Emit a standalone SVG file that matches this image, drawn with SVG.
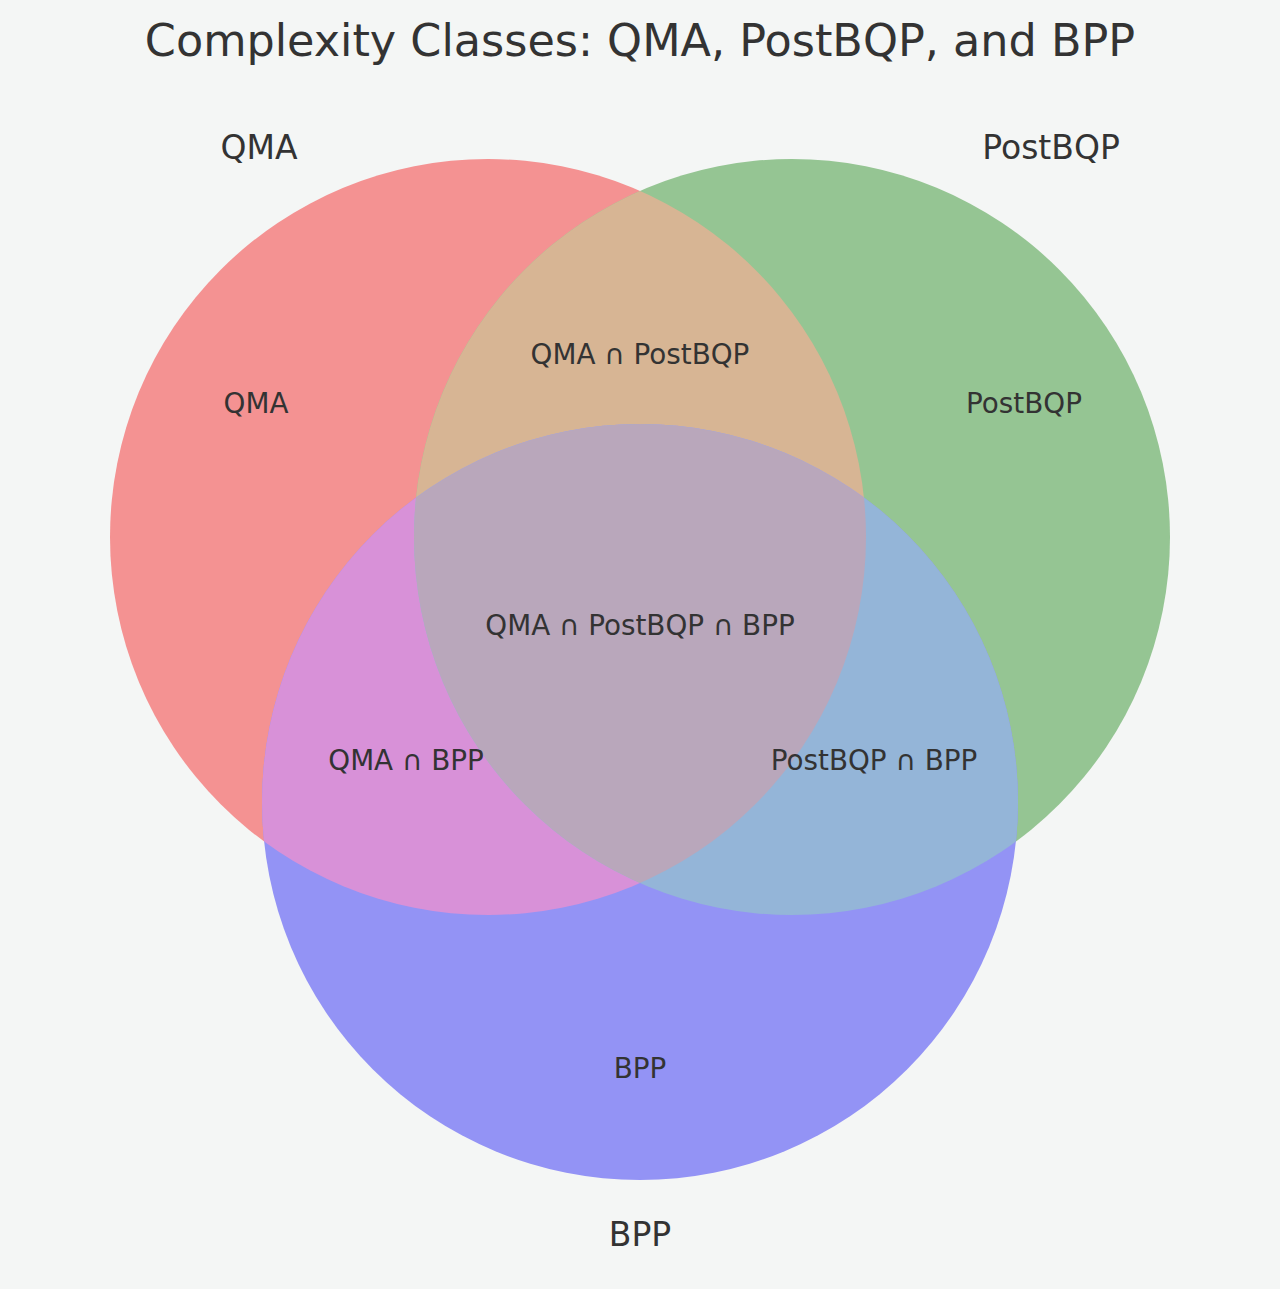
<svg xmlns="http://www.w3.org/2000/svg" width="1280" height="1289" viewBox="0 0 1280 1289">
<style>
text{font-family:"DejaVu Sans","Liberation Sans",sans-serif;fill:#333333;text-anchor:middle}
.t{font-size:44.5px}
.o{font-size:33px}
.r{font-size:27.8px}
</style>
<defs>
<clipPath id="cA"><circle cx="488" cy="537" r="378"/></clipPath>
<clipPath id="cB"><circle cx="792" cy="537" r="378"/></clipPath>
</defs>
<rect width="1280" height="1289" fill="#f4f6f5"/>
<text class="t" x="640" y="56">Complexity Classes: QMA, PostBQP, and BPP</text>
<g id="regions">
<g id="qma"><circle cx="488" cy="537" r="378" fill="#f49292"/></g>
<g id="postbqp"><circle cx="792" cy="537" r="378" fill="#95c593"/></g>
<g id="bpp"><circle cx="640" cy="802" r="378" fill="#9393f5"/></g>
<g id="qma-postbqp" clip-path="url(#cA)"><circle cx="792" cy="537" r="378" fill="#d7b594"/></g>
<g id="qma-bpp" clip-path="url(#cA)"><circle cx="640" cy="802" r="378" fill="#d891d8"/></g>
<g id="postbqp-bpp" clip-path="url(#cB)"><circle cx="640" cy="802" r="378" fill="#94b5d8"/></g>
<g id="all" clip-path="url(#cA)"><g clip-path="url(#cB)"><circle cx="640" cy="802" r="378" fill="#b9a7bb"/></g></g>
</g>
<g id="labels">
<text class="o" x="259" y="159">QMA</text>
<text class="o" x="1051" y="159">PostBQP</text>
<text class="o" x="640" y="1246">BPP</text>
<text class="r" x="256" y="413">QMA</text>
<text class="r" x="1024" y="413">PostBQP</text>
<text class="r" x="640" y="364">QMA ∩ PostBQP</text>
<text class="r" x="640" y="635">QMA ∩ PostBQP ∩ BPP</text>
<text class="r" x="406" y="770">QMA ∩ BPP</text>
<text class="r" x="874" y="770">PostBQP ∩ BPP</text>
<text class="r" x="640" y="1078">BPP</text>
</g>
</svg>
